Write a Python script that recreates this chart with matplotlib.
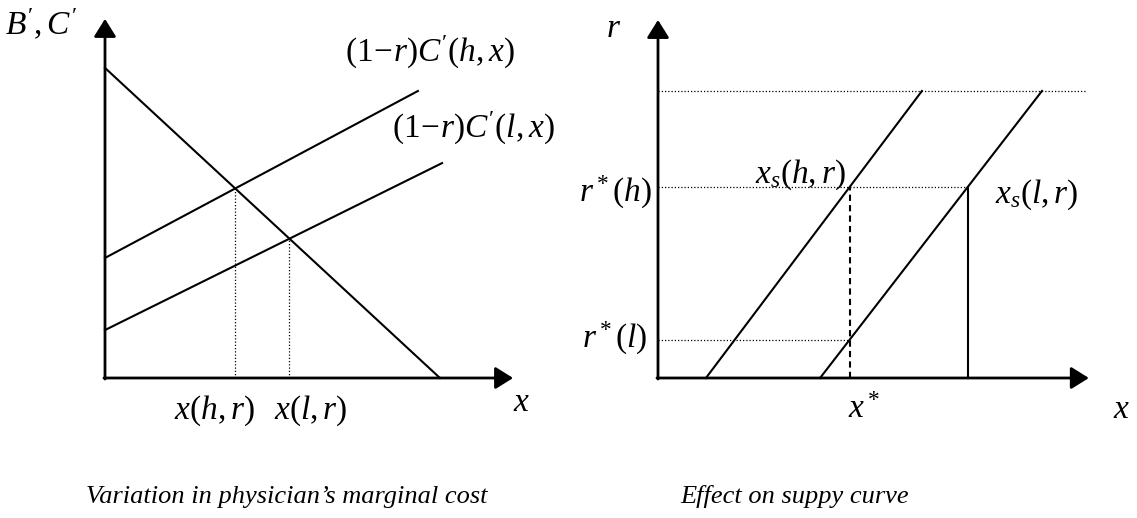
import numpy as np
import matplotlib
matplotlib.use("Agg")
import matplotlib.pyplot as plt

plt.rcParams['font.family'] = ['Liberation Serif', 'DejaVu Serif']
plt.rcParams['mathtext.fontset'] = 'custom'
plt.rcParams['mathtext.rm'] = 'Liberation Serif'
plt.rcParams['mathtext.it'] = 'Liberation Serif:italic'
plt.rcParams['mathtext.bf'] = 'Liberation Serif:bold'

# ---- left panel data (diagram units) ----
left_x_end = 11.66
left_y_end = 10.26
demand_x = [0, 9.57]
demand_y = [8.86, 0]
cost_h_x = [0, 8.94]
cost_h_y = [3.43, 8.20]
cost_l_x = [0, 9.63]
cost_l_y = [1.37, 6.14]

# ---- right panel data ----
right_x_end = 12.31
right_y_end = 10.23
r_top = 8.2
r_top_x_end = 12.26
r_star_h = 5.46
supply_h_x = [1.37, 7.54]
supply_l_x = [4.63, 10.97]
supply_r = [0, 8.2]

W, H = 1137, 518
k = 35.0  # px per diagram unit
fig = plt.figure(figsize=(W / 100, H / 100), dpi=100)


def panel(ox, oy):
    ax = fig.add_axes([0, 0, 1, 1])
    ax.set_xlim(-ox / k, (W - ox) / k)
    ax.set_ylim(-(H - oy) / k, oy / k)
    ax.axis('off')
    ax.patch.set_alpha(0)
    return ax


def axis_arrows(ax, xe, ye):
    st = dict(arrowstyle='-|>,head_length=0.4,head_width=0.25', color='black',
              lw=2.0, mutation_scale=27, shrinkA=0, shrinkB=0)
    ax.annotate('', xy=(xe, 0), xytext=(-0.03, 0), arrowprops=st)
    ax.annotate('', xy=(0, ye), xytext=(0, -0.03), arrowprops=st)


def line_coef(xs, ys):
    m = (ys[1] - ys[0]) / (xs[1] - xs[0])
    return m, ys[0] - m * xs[0]


def cross(l1, l2):
    m1, b1 = line_coef(*l1)
    m2, b2 = line_coef(*l2)
    x = (b2 - b1) / (m1 - m2)
    return x, m1 * x + b1


lw = 1.5
dot = dict(color='black', lw=0.9, linestyle=(0, (1, 1.6)))
fs = 24

# ---------------- left panel ----------------
axl = panel(105, 378)
axis_arrows(axl, left_x_end, left_y_end)
axl.plot(demand_x, demand_y, color='black', lw=lw)
axl.plot(cost_h_x, cost_h_y, color='black', lw=lw)
axl.plot(cost_l_x, cost_l_y, color='black', lw=lw)

xh, yh = cross((demand_x, demand_y), (cost_h_x, cost_h_y))
xl, yl = cross((demand_x, demand_y), (cost_l_x, cost_l_y))
axl.plot([xh, xh], [0, yh], **dot)
axl.plot([xl, xl], [0, yl], **dot)

axl.text(-0.8, 10.09, r"$B', C'$", fontsize=fs, ha='right', va='center')
axl.text(6.86, 9.29, r"$(1\!-\!r)C'(h,x)$", fontsize=fs, ha='left', va='center')
axl.text(8.2, 7.14, r"$(1\!-\!r)C'(l,x)$", fontsize=fs, ha='left', va='center')
axl.text(xh - 0.6, -0.94, r"$x(h,r)$", fontsize=fs, ha='center', va='center')
axl.text(xl + 0.6, -0.94, r"$x(l,r)$", fontsize=fs, ha='center', va='center')
axl.text(11.89, -0.71, r"$x$", fontsize=fs, ha='center', va='center')

# ---------------- right panel ----------------
axr = panel(658, 378)
axis_arrows(axr, right_x_end, right_y_end)
axr.plot(supply_h_x, supply_r, color='black', lw=lw)
axr.plot(supply_l_x, supply_r, color='black', lw=lw)

x_star = np.interp(r_star_h, supply_r, supply_h_x)
r_star_l = np.interp(x_star, supply_l_x, supply_r)
x_l_at_h = np.interp(r_star_h, supply_r, supply_l_x)

axr.plot([0, r_top_x_end], [r_top, r_top], **dot)
axr.plot([0, x_l_at_h], [r_star_h, r_star_h], **dot)
axr.plot([0, x_star], [r_star_l, r_star_l], **dot)
axr.plot([x_star, x_star], [0, r_star_h], color='black', lw=lw, linestyle=(0, (3, 2)))
axr.plot([x_l_at_h, x_l_at_h], [0, r_star_h], color='black', lw=lw)

axr.text(-1.26, 9.97, r"$r$", fontsize=fs, ha='center', va='center')
axr.text(-0.17, 5.31, r"$r^*(h)$", fontsize=fs, ha='right', va='center')
axr.text(-0.29, 1.14, r"$r^*(l)$", fontsize=fs, ha='right', va='center')
axr.text(4.06, 5.8, r"$x_s(h,r)$", fontsize=fs, ha='center', va='center')
axr.text(10.83, 5.23, r"$x_s(l,r)$", fontsize=fs, ha='center', va='center')
axr.text(x_star + 0.4, -0.91, r"$x^*$", fontsize=fs, ha='center', va='center')
axr.text(13.23, -0.91, r"$x$", fontsize=fs, ha='center', va='center')

# captions
fig.text(287 / W, 1 - 497 / H, "Variation in physician’s marginal cost",
         fontsize=19, style='italic', ha='center', va='center')
fig.text(795 / W, 1 - 497 / H, "Effect on suppy curve",
         fontsize=19, style='italic', ha='center', va='center')

fig.savefig('out.png', dpi=100, facecolor='white')
